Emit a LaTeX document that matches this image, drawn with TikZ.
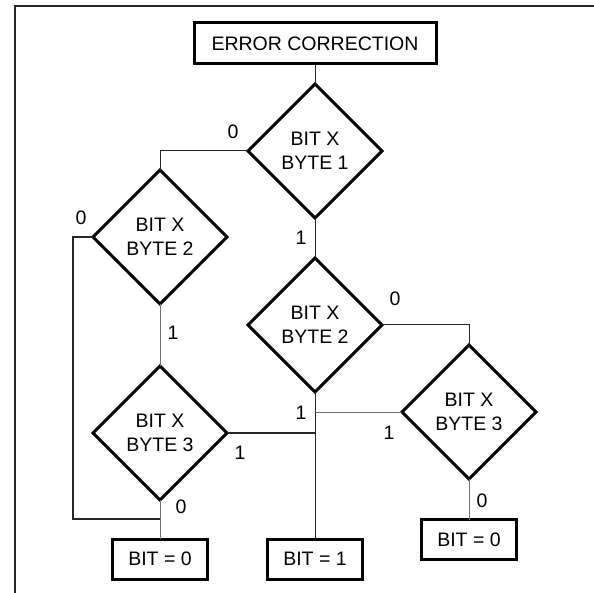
\documentclass[tikz,border=0pt]{standalone}
\usepackage{fontspec}
\setmainfont{Liberation Sans}
\usetikzlibrary{shapes.geometric}
\begin{document}
\begin{tikzpicture}[x=1pt,y=-1pt,
  every node/.style={font=\fontsize{19.5}{24.5}\selectfont},
  decision/.style={diamond,draw,line width=3pt,minimum width=134pt,minimum height=134pt,inner sep=0pt,outer sep=0pt,align=center},
  result/.style={draw,line width=3pt,minimum width=95pt,minimum height=40pt,inner sep=0pt,outer sep=0pt},
  conn/.style={line width=1pt,draw=black!85},
  conngray/.style={line width=1pt,draw=black!55},
  lbl/.style={inner sep=0pt}]
\useasboundingbox (0,0) rectangle (594,593);
\draw[line width=2.2pt,black!85] (594,6) -- (15,6) -- (15,593);

\node[result,minimum width=242pt,minimum height=41pt] (top) at (315,43.5) {ERROR CORRECTION};
\node[decision] (d1) at (315,151) {BIT X\\BYTE 1};
\node[decision] (d3) at (160,237) {BIT X\\BYTE 2};
\node[decision] (d2) at (315,325) {BIT X\\BYTE 2};
\node[decision] (d5) at (160,433) {BIT X\\BYTE 3};
\node[decision] (d4) at (469,412) {BIT X\\BYTE 3};
\node[result] (b0) at (160,559) {BIT = 0};
\node[result] (b1) at (315,559) {BIT = 1};
\node[result] (b2) at (469,539.5) {BIT = 0};
\coordinate (j1) at (160,519);

\draw[conn] (top.south) -- (d1.north);
\draw[conn] (d1.west) -| (d3.north);
\draw[conn] (d1.south) -- (d2.north);
\draw[conn,line width=1.4pt] (d3.west) -- ++(-20,0) |- (j1);
\draw[conngray] (d3.south) -- (d5.north);
\draw[conngray] (d5.south) -- (b0.north);
\draw[conn,line width=1.3pt] (d5.east) -- (d5.east -| d2.south);
\draw[conn] (d2.south) -- (b1.north);
\draw[conn] (d2.east) -| (d4.north);
\draw[conngray] (d4.west) -- (d4.west -| d2.south);
\draw[conngray] (d4.south) -- (b2.north);

\node[lbl] (l1) at (233,132) {0};
\node[lbl] (l2) at (81,218) {0};
\node[lbl] (l3) at (173,333) {1};
\node[lbl] (l4) at (240,453) {1};
\node[lbl] (l5) at (181,507) {0};
\node[lbl] (l6) at (301,238) {1};
\node[lbl] (l7) at (395,299) {0};
\node[lbl] (l8) at (301,413) {1};
\node[lbl] (l9) at (389,433) {1};
\node[lbl] (l10) at (482,501) {0};
\end{tikzpicture}
\end{document}
